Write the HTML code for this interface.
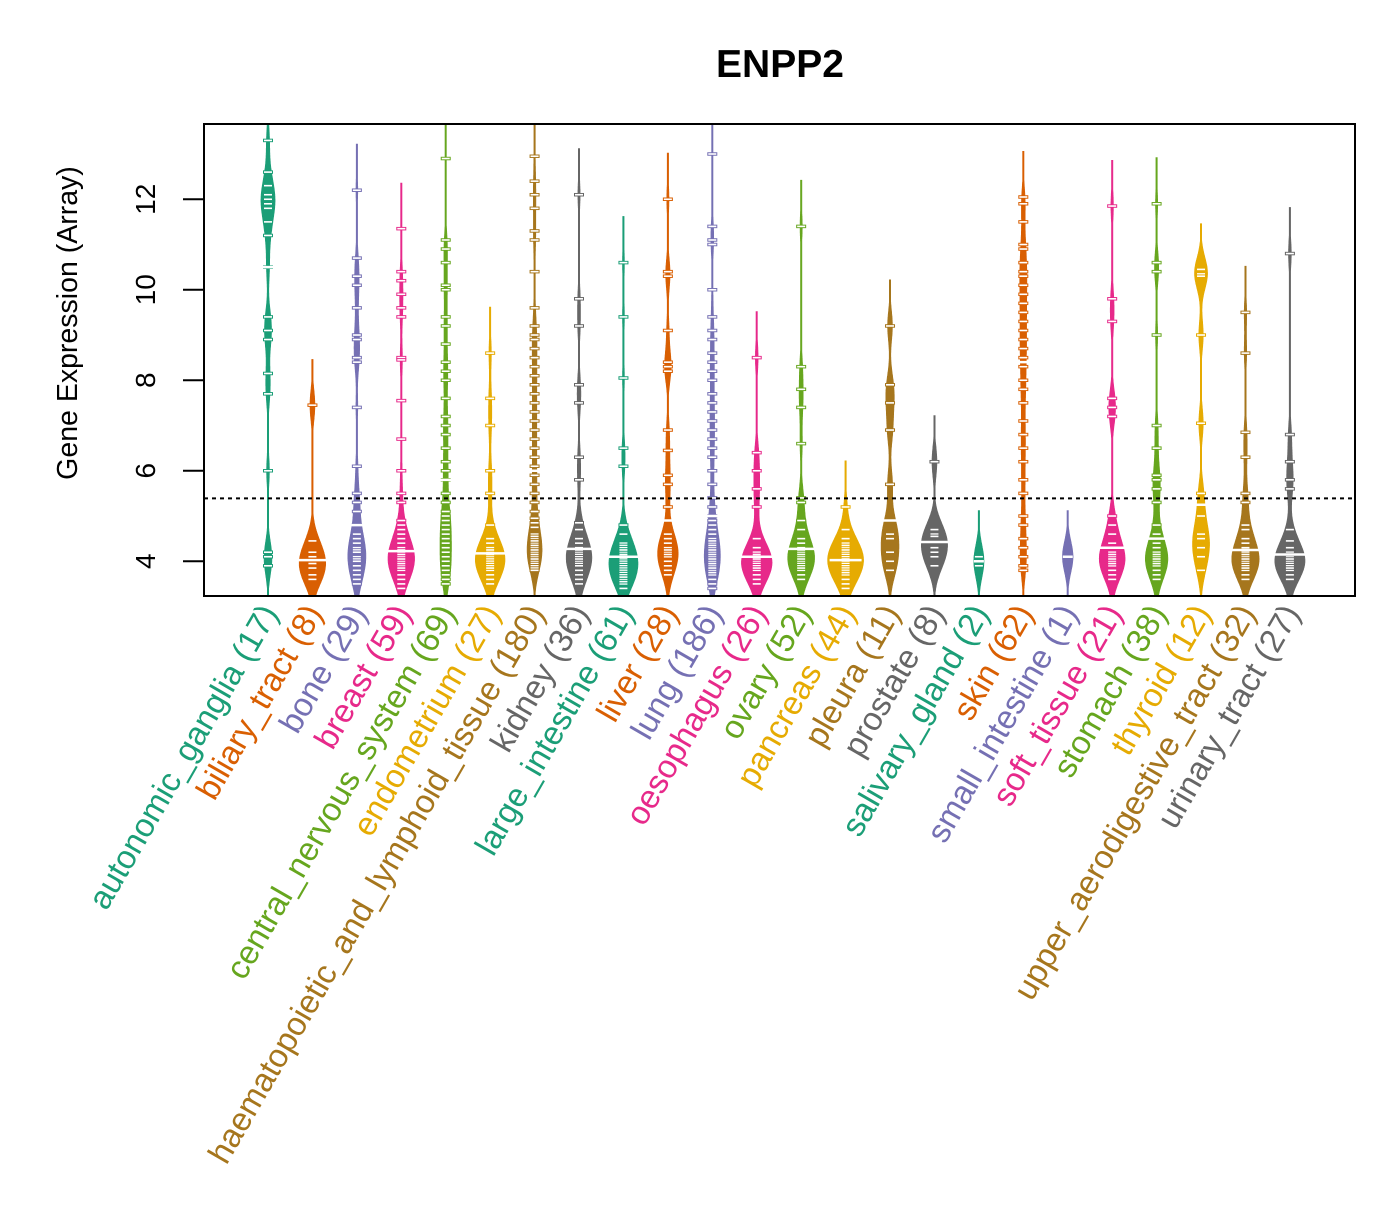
<!DOCTYPE html>
<html><head><meta charset="utf-8"><style>
html,body{margin:0;padding:0;background:#fff}
svg text{font-family:"Liberation Sans",sans-serif}
</style></head><body>
<svg id="chart" width="1400" height="1200" viewBox="0 0 1400 1200" xmlns="http://www.w3.org/2000/svg">
<text x="780" y="77" text-anchor="middle" font-size="39" font-weight="bold">ENPP2</text>
<text transform="translate(77,323) rotate(-90)" text-anchor="middle" font-size="28.5">Gene Expression (Array)</text>
<g id="beans"></g>
<g id="yaxis"></g>
<g id="xlabels"></g>
<rect x="204" y="124" width="1151" height="472" fill="none" stroke="#000" stroke-width="2"/>
</svg>
<script>
const categories = ["autonomic_ganglia","biliary_tract","bone","breast","central_nervous_system","endometrium","haematopoietic_and_lymphoid_tissue","kidney","large_intestine","liver","lung","oesophagus","ovary","pancreas","pleura","prostate","salivary_gland","skin","small_intestine","soft_tissue","stomach","thyroid","upper_aerodigestive_tract","urinary_tract"];
const counts = [17,8,29,59,69,27,180,36,61,28,186,26,52,44,11,8,2,62,1,21,38,12,32,27];
const yTicks = [4,6,8,10,12];
const overallLine = 5.39;
const values = [
 [13.3,12.6,12.3,12.1,12.0,11.9,11.8,11.5,11.2,10.5,9.4,9.1,8.9,8.15,7.7,6.0,4.2,4.1,3.9],
 [7.45,4.45,4.2,3.95,3.85,4.1,3.6,3.7],
 [12.2,10.7,10.3,10.1,9.6,9.0,8.9,8.5,8.4,7.4,6.1,5.5,5.3,5.1,4.8,4.6,4.5,4.4,4.3,4.25,4.2,4.1,4.05,4.0,3.9,3.8,3.7,3.6,3.5],
 [11.35,10.4,10.2,9.9,9.6,9.4,8.5,8.45,7.55,6.7,6.0,5.5,5.3,4.9,4.8,4.7,4.6,4.5,4.5,4.4,4.4,4.3,4.3,4.2,4.2,4.2,4.1,4.1,4.1,4.0,4.0,4.0,3.9,3.9,3.9,3.8,3.8,3.7,3.7,3.6,3.6,3.5,3.4,4.25,4.15,4.05,3.95,3.85],
 [12.9,11.1,10.9,10.6,10.1,10.0,9.4,9.2,8.8,8.4,8.2,8.0,7.6,7.2,7.0,6.8,6.5,6.2,6.0,5.8,5.5,5.3,5.1,5.0,4.9,4.8,4.7,4.6,4.5,4.4,4.3,4.2,4.1,4.0,3.9,3.8,3.7,3.6,3.5],
 [8.6,7.6,7.0,6.0,5.5,4.8,4.5,4.4,4.3,4.2,4.1,4.05,4.0,3.95,3.9,3.8,3.7,3.6,3.5,4.15,4.25,3.85],
 [12.95,12.4,12.1,11.8,11.3,11.1,10.4,9.6,9.2,9.0,8.9,8.7,8.5,8.3,8.1,7.9,7.7,7.5,7.3,7.1,6.9,6.7,6.5,6.3,6.1,5.9,5.7,5.5,5.3,5.1,4.95,4.85,4.75,4.6,4.5,4.4,4.3,4.2,4.1,4.0,3.95,3.9,3.85,3.8,4.05,4.15,4.25,4.35,4.45,4.55],
 [12.1,9.8,9.2,7.9,7.5,6.3,5.8,4.85,4.7,4.5,4.4,4.3,4.2,4.15,4.1,4.0,3.95,3.9,3.8,3.7,3.6,3.5,4.25,4.05],
 [10.6,9.4,8.05,6.5,6.1,4.8,4.6,4.4,4.35,4.3,4.2,4.1,4.05,4.0,3.95,3.9,3.85,3.8,3.75,3.7,3.6,3.5,3.4,4.15,4.25,3.65,3.55],
 [12.0,10.4,10.3,9.1,8.4,8.3,8.2,6.9,6.45,5.9,5.7,5.2,4.6,4.5,4.4,4.3,4.2,4.1,4.0,3.9,3.8,3.7,4.25,4.15],
 [13.0,11.4,11.1,11.0,10.0,9.4,9.1,8.9,8.6,8.4,8.2,8.0,7.7,7.5,7.3,7.1,6.9,6.7,6.5,6.3,6.0,5.7,5.4,5.2,5.0,4.9,4.8,4.7,4.6,4.5,4.4,4.3,4.2,4.1,4.0,3.9,3.8,3.7,3.6,3.5,3.4,4.25,4.15,4.05,3.95,3.85,3.75,4.35,4.45],
 [8.5,6.4,6.0,5.6,5.2,4.5,4.3,4.2,4.1,4.0,3.95,3.9,3.8,3.7,3.6,4.05,4.15,3.85,3.5],
 [11.4,8.3,7.8,7.4,6.6,5.4,5.3,4.9,4.7,4.5,4.4,4.3,4.2,4.1,4.0,3.95,3.9,3.8,3.7,3.6,4.05,4.15,4.25,3.85],
 [5.2,4.7,4.5,4.4,4.3,4.2,4.15,4.1,4.05,4.0,4.0,3.95,3.9,3.85,3.8,3.7,3.6,3.5,3.4,4.25,4.35,3.75],
 [9.2,7.9,7.5,6.9,5.7,4.9,4.6,4.5,4.2,4.0,3.8],
 [6.2,4.7,4.6,4.55,4.3,4.2,4.1,3.9],
 [4.1,3.9],
 [12.05,11.9,11.5,11.0,10.9,10.6,10.4,10.3,10.1,9.9,9.7,9.5,9.3,9.1,8.9,8.7,8.5,8.3,8.0,7.8,7.5,7.1,6.8,6.5,6.2,5.8,5.5,5.0,4.8,4.5,4.3,4.1,3.9,3.8],
 [4.1],
 [11.85,9.8,9.3,7.6,7.4,7.2,5.0,4.8,4.6,4.4,4.3,4.2,4.1,4.0,3.9,3.8,3.7,3.6,4.05,4.15,3.95],
 [11.9,10.6,10.4,9.0,7.0,6.5,5.9,5.8,5.6,5.3,4.8,4.6,4.4,4.3,4.2,4.1,4.0,3.9,3.8,3.7,3.6,4.05,4.15,3.95],
 [10.45,10.35,10.3,9.0,7.05,5.5,5.0,4.6,4.3,4.1,3.8,4.5],
 [9.5,8.6,6.85,6.3,5.5,5.3,4.8,4.7,4.5,4.4,4.3,4.2,4.1,4.0,3.95,3.9,3.8,3.7,3.6,4.05,4.15,3.85],
 [10.8,6.8,6.2,5.8,5.6,4.7,4.45,4.3,4.2,4.1,4.0,3.95,3.9,3.8,3.7,3.6,4.05,4.15,3.85]
];
const colors = ["#1B9E77","#D95F02","#7570B3","#E7298A","#66A61E","#E6AB02","#A6761D","#666666"];

const NS="http://www.w3.org/2000/svg";
const plot={l:204,r:1355,t:124,b:596};
const yMin=3.2325, yMax=13.663;
function yScale(v){return plot.b-(v-yMin)/(yMax-yMin)*(plot.b-plot.t);}
const x0=268, step=44.43;
function xScale(i){return x0+i*step;}
function mk(tag,attrs,parent){const e=document.createElementNS(NS,tag);for(const k in attrs)e.setAttribute(k,attrs[k]);parent.appendChild(e);return e;}

const beans=document.getElementById('beans');
const bw=0.34;
const dens=values.map(vals=>{
  const lo=Math.min(...vals)-3*bw, hi=Math.max(...vals)+3*bw;
  const pts=[];
  for(let v=lo;v<=hi;v+=0.02){
    let s=0;for(const d of vals){const z=(v-d)/bw;s+=Math.exp(-0.5*z*z);}
    pts.push([v,s/(vals.length*bw*Math.sqrt(2*Math.PI))]);
  }
  return pts;
});
let gmax=0;dens.forEach((p,i)=>{if(values[i].length<9)return;p.forEach(q=>{if(q[1]>gmax)gmax=q[1];});});
const maxHalf=18;
const cp=mk('clipPath',{id:'pc'},document.getElementById('chart'));
mk('rect',{x:plot.l,y:plot.t,width:plot.r-plot.l,height:plot.b-plot.t},cp);
beans.setAttribute('clip-path','url(#pc)');

values.forEach((vals,i)=>{
  const cx=xScale(i), col=colors[i%8];
  const fac=vals.length<3?0.2:(vals.length<9?0.75:1);
  const g=mk('g',{},beans);
  
  
  const p=dens[i];
  const wf=q=>Math.min(maxHalf,Math.max(0.7,q/gmax*maxHalf*fac));
  let d='';
  p.forEach((q,k)=>{d+=(k?'L':'M')+(cx+wf(q[1])).toFixed(1)+','+yScale(q[0]).toFixed(1);});
  for(let k=p.length-1;k>=0;k--){d+='L'+(cx-wf(p[k][1])).toFixed(1)+','+yScale(p[k][0]).toFixed(1);}
  const path=mk('path',{d:d+'Z',fill:col,stroke:col,'stroke-width':'0.6'},g);
  
  
  vals.forEach(v=>{
    const y=yScale(v);
    const bl=mk('line',{x1:cx-5,x2:cx+5,y1:y,y2:y,stroke:col,'stroke-width':'3.5'},g);
    
    
    const wl=mk('line',{x1:cx-4,x2:cx+4,y1:y,y2:y,stroke:'#fff','stroke-width':'1.6'},g);
    
    
  });
  const s=[...vals].sort((a,b)=>a-b);const n=s.length;
  const med=n%2?s[(n-1)/2]:(s[n/2-1]+s[n/2])/2;
  const my=yScale(med);
  const mw=vals.length<3?5:16;
  const ml=mk('line',{x1:cx-mw,x2:cx+mw,y1:my,y2:my,stroke:'#fff','stroke-width':'2.5'},g);
  
  
});
const ol=mk('line',{x1:plot.l,x2:plot.r,y1:yScale(overallLine),y2:yScale(overallLine),stroke:'#000','stroke-width':'2','stroke-dasharray':'4,4'},beans);



const ya=document.getElementById('yaxis');
yTicks.forEach(t=>{
  const y=yScale(t);
  const tk=mk('line',{x1:183,x2:204,y1:y,y2:y,stroke:'#000','stroke-width':'2'},ya);
  
  
  const tx=mk('text',{transform:`translate(155,${y}) rotate(-90)`,'text-anchor':'middle','font-size':'28'},ya);
  tx.textContent=t;
  
  
});
const yl=mk('line',{x1:204,x2:204,y1:yScale(4),y2:yScale(12),stroke:'#000','stroke-width':'2'},ya);



const xl=document.getElementById('xlabels');
categories.forEach((c,i)=>{
  const x=xScale(i)+11, y=613;
  const t=mk('text',{transform:`translate(${x},${y}) rotate(-60)`,'text-anchor':'end','font-size':'33',fill:colors[i%8]},xl);
  t.textContent=c+' ('+counts[i]+')';
  
  
});
</script>
</body></html>
